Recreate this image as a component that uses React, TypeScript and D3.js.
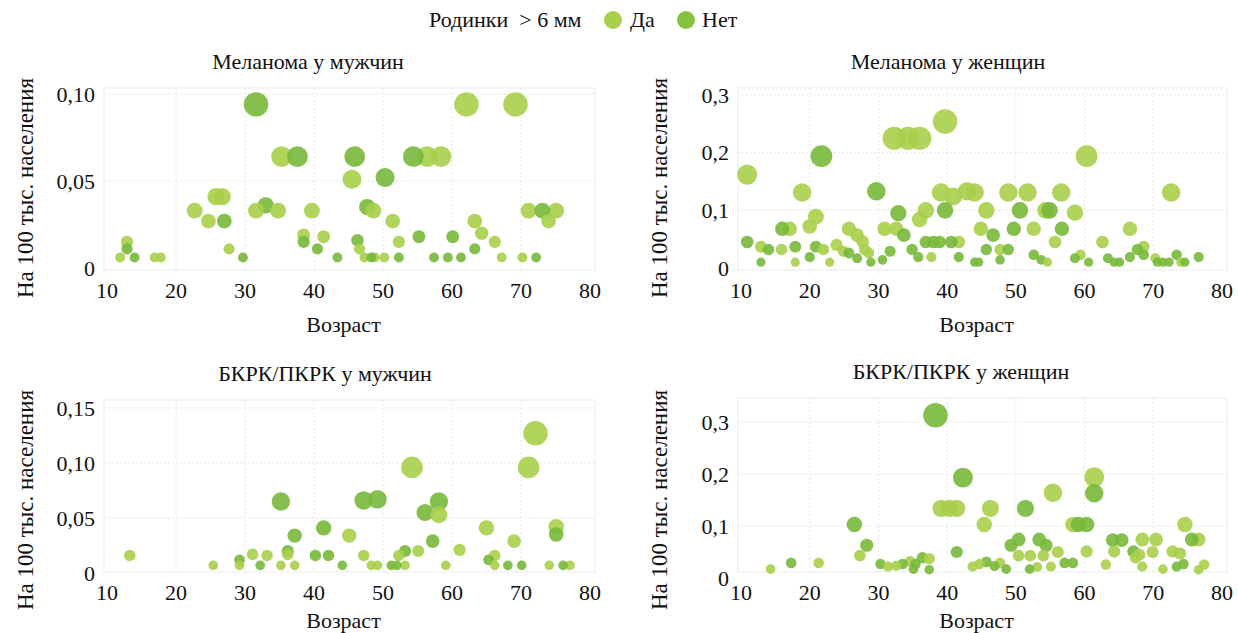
import React from "react";
import * as d3 from "d3";

// [возраст, значение на 100 тыс.] — «Да» = родинки > 6 мм, «Нет» = без них
const melMenYes = [
  [62.1, 0.094], [69.2, 0.094], [35.3, 0.064], [56.4, 0.064], [58.4, 0.064], [45.5, 0.051],
  [25.8, 0.041], [26.7, 0.041], [22.7, 0.033], [24.7, 0.027], [31.6, 0.033], [34.8, 0.033],
  [39.7, 0.033], [48.6, 0.033], [51.4, 0.027], [71.1, 0.033], [75.1, 0.033], [74.0, 0.027],
  [63.3, 0.027], [64.3, 0.02], [66.2, 0.015], [67.2, 0.006], [70.2, 0.006], [52.3, 0.015],
  [50.2, 0.006], [48.8, 0.006], [47.3, 0.006], [46.6, 0.011], [41.4, 0.018], [38.5, 0.019],
  [27.7, 0.011], [16.9, 0.006], [17.8, 0.006], [12.9, 0.015], [11.9, 0.006],
];
const melMenNo = [
  [31.6, 0.094], [37.6, 0.064], [45.9, 0.064], [54.4, 0.064], [50.3, 0.052], [27.0, 0.027],
  [33.0, 0.036], [47.7, 0.035], [73.1, 0.033], [63.3, 0.011], [72.2, 0.006], [60.1, 0.018],
  [59.4, 0.006], [61.3, 0.006], [57.4, 0.006], [55.2, 0.018], [52.3, 0.006], [48.3, 0.006],
  [46.3, 0.016], [43.4, 0.006], [40.5, 0.011], [38.5, 0.015], [29.7, 0.006], [12.9, 0.011],
  [14.0, 0.006],
];

const melWomenYes = [
  [10.9, 0.162], [18.9, 0.131], [32.3, 0.225], [34.3, 0.225], [36.0, 0.225], [39.7, 0.254],
  [60.3, 0.194], [72.6, 0.131], [39.1, 0.131], [40.9, 0.124], [42.9, 0.133], [44.0, 0.131],
  [48.9, 0.131], [51.7, 0.131], [56.6, 0.131], [54.3, 0.1], [45.7, 0.1], [36.9, 0.1],
  [58.6, 0.096], [36.0, 0.084], [20.9, 0.089], [20.0, 0.072], [17.1, 0.068], [25.7, 0.068],
  [30.9, 0.068], [32.6, 0.068], [26.9, 0.057], [27.7, 0.046], [28.0, 0.032], [44.9, 0.068],
  [52.6, 0.068], [66.6, 0.068], [55.7, 0.045], [62.6, 0.045], [12.9, 0.037], [15.9, 0.032],
  [22.0, 0.032], [23.9, 0.04], [24.9, 0.029], [28.6, 0.026], [41.7, 0.045], [37.7, 0.019],
  [47.7, 0.032], [54.6, 0.01], [59.4, 0.023], [68.6, 0.037], [70.3, 0.017], [74.0, 0.01],
  [17.9, 0.01], [22.9, 0.01],
];
const melWomenNo = [
  [21.7, 0.194], [29.7, 0.133], [54.9, 0.1], [50.6, 0.1], [39.7, 0.1], [32.9, 0.095],
  [16.0, 0.068], [33.7, 0.057], [46.7, 0.057], [49.7, 0.068], [56.7, 0.068], [10.9, 0.045],
  [14.0, 0.032], [17.9, 0.037], [20.9, 0.037], [25.7, 0.026], [26.9, 0.017], [31.7, 0.029],
  [34.9, 0.032], [35.8, 0.019], [36.9, 0.045], [38.0, 0.045], [38.9, 0.045], [40.6, 0.045],
  [41.7, 0.019], [45.7, 0.032], [48.9, 0.032], [47.7, 0.014], [52.6, 0.023], [53.7, 0.014],
  [58.6, 0.017], [60.6, 0.01], [63.4, 0.017], [64.3, 0.01], [65.1, 0.01], [66.6, 0.019],
  [67.7, 0.032], [68.6, 0.023], [70.6, 0.01], [71.4, 0.01], [72.3, 0.01], [73.4, 0.023],
  [74.6, 0.01], [76.6, 0.019], [12.9, 0.01], [20.0, 0.019], [28.9, 0.01], [30.6, 0.014],
  [44.0, 0.01], [44.6, 0.01],
];

const bcMenYes = [
  [72.1, 0.127], [71.1, 0.096], [54.2, 0.096], [58.1, 0.053], [65.0, 0.041], [75.1, 0.042],
  [45.1, 0.034], [69.0, 0.029], [13.3, 0.016], [31.1, 0.017], [33.2, 0.016], [36.2, 0.017],
  [47.2, 0.016], [52.3, 0.016], [55.1, 0.02], [61.1, 0.021], [66.2, 0.016], [29.2, 0.007],
  [25.4, 0.007], [35.2, 0.007], [37.2, 0.007], [48.3, 0.007], [49.2, 0.007], [53.2, 0.007],
  [59.1, 0.007], [66.2, 0.007], [74.1, 0.007], [77.1, 0.007],
];
const bcMenNo = [
  [35.2, 0.065], [47.2, 0.066], [49.2, 0.067], [58.1, 0.065], [56.1, 0.055], [41.4, 0.041],
  [75.1, 0.035], [37.2, 0.034], [57.2, 0.029], [36.2, 0.02], [40.2, 0.016], [42.1, 0.016],
  [53.2, 0.02], [65.3, 0.012], [29.2, 0.012], [32.2, 0.007], [44.1, 0.007], [51.2, 0.007],
  [52.0, 0.007], [68.1, 0.007], [70.1, 0.007], [76.1, 0.007],
];

const bcWomenYes = [
  [61.4, 0.194], [55.4, 0.164], [39.1, 0.134], [40.3, 0.134], [41.4, 0.134], [46.3, 0.134],
  [45.4, 0.103], [58.3, 0.103], [74.6, 0.103], [27.3, 0.043], [68.4, 0.074], [70.4, 0.074],
  [76.6, 0.074], [68.0, 0.045], [67.4, 0.039], [69.9, 0.05], [72.8, 0.051], [73.9, 0.047],
  [64.3, 0.051], [60.3, 0.051], [56.1, 0.05], [54.0, 0.043], [52.1, 0.043], [50.4, 0.043],
  [21.3, 0.029], [14.3, 0.017], [31.4, 0.022], [32.6, 0.024], [34.6, 0.032], [37.4, 0.037],
  [43.7, 0.022], [44.7, 0.027], [47.7, 0.029], [53.1, 0.021], [55.1, 0.022], [63.1, 0.026],
  [68.4, 0.022], [71.4, 0.017], [76.6, 0.016], [77.4, 0.026],
];
const bcWomenNo = [
  [38.3, 0.313], [42.3, 0.193], [61.4, 0.163], [51.4, 0.134], [26.5, 0.103], [59.1, 0.103],
  [60.3, 0.103], [28.3, 0.063], [49.3, 0.063], [50.4, 0.074], [53.4, 0.074], [54.4, 0.063],
  [64.1, 0.073], [65.4, 0.073], [75.6, 0.074], [67.1, 0.051], [41.4, 0.05], [17.3, 0.029],
  [30.3, 0.027], [33.5, 0.027], [35.4, 0.027], [36.4, 0.039], [35.1, 0.017], [37.4, 0.016],
  [45.7, 0.031], [46.9, 0.023], [48.6, 0.017], [52.0, 0.017], [57.1, 0.029], [58.3, 0.029],
  [73.4, 0.022], [74.4, 0.027],
];

const ageTicks = [10, 20, 30, 40, 50, 60, 70, 80];
const ticksMelMen = [0, 0.05, 0.1];
const tickLabelsMelMen = ["0", "0,05", "0,10"];
const ticksSmall = [0, 0.05, 0.1, 0.15];
const tickLabelsSmall = ["0", "0,05", "0,10", "0,15"];
const ticksWomen = [0, 0.1, 0.2, 0.3];
const tickLabelsWomen = ["0", "0,1", "0,2", "0,3"];

const YES = "#a9cf4b";
const NO = "#78b83a";
const FONT = "'Liberation Serif', 'DejaVu Serif', serif";

function Panel({ title, titleX, yes, no, ticks, tickLabels, yMax, x0, x1, y0, y1, top, bottom, xlabY, ylabY }) {
  const x = d3.scaleLinear().domain([10, 80]).range([x0, x1]);
  const y = d3.scaleLinear().domain([0, yMax]).range([y0, y1]);
  const vmax = d3.max([...yes, ...no], (d) => d[1]);
  const r = (v) => Math.sqrt(16 + (150 - 16) * (v / vmax));
  const pts = [
    ...yes.map((d) => ({ a: d[0], v: d[1], c: YES })),
    ...no.map((d) => ({ a: d[0], v: d[1], c: NO })),
  ].sort((a, b) => b.v - a.v);
  const left = x0 - 3;
  const right = x1 + 5;
  const cx = (x0 + x1) / 2;
  return (
    <g fontFamily={FONT} fill="#111">
      <rect x={left} y={top} width={right - left} height={bottom - top} fill="none" stroke="#ececec" />
      {ageTicks.slice(1, -1).map((t) => (
        <line key={"v" + t} x1={x(t)} x2={x(t)} y1={top} y2={bottom} stroke="#e6e8e0" strokeDasharray="2,2" />
      ))}
      {ticks.slice(1).map((t) => (
        <line key={"h" + t} x1={left} x2={right} y1={y(t)} y2={y(t)} stroke="#e6eadb" strokeDasharray="2,2" />
      ))}
      {pts.map((p, i) => (
        <circle key={i} cx={x(p.a)} cy={y(p.v)} r={r(p.v)} fill={p.c} fillOpacity={0.9} />
      ))}
      {ageTicks.map((t) => (
        <text key={"xt" + t} x={x(t)} y={bottom + 28} textAnchor="middle" fontSize={22}>
          {t}
        </text>
      ))}
      {ticks.map((t, i) => (
        <text key={"yt" + t} x={x0 - 12} y={y(t)} dy="0.35em" textAnchor="end" fontSize={22}>
          {tickLabels[i]}
        </text>
      ))}
      <text x={titleX} y={top - 19} textAnchor="middle" fontSize={22}>
        {title}
      </text>
      <text x={cx - 5} y={xlabY} textAnchor="middle" fontSize={22}>
        Возраст
      </text>
      <text transform={`translate(${x0 - 74},${ylabY}) rotate(-90)`} textAnchor="middle" fontSize={23}>
        На 100 тыс. населения
      </text>
    </g>
  );
}

export default function App() {
  return (
    <svg width={1238} height={633} style={{ position: "absolute", left: 0, top: 0, background: "#fff" }}>
      <g fontFamily={FONT} fontSize={22} fill="#111">
        <text x={429} y={27} style={{ whiteSpace: "pre" }}>
          {"Родинки  > 6 мм"}
        </text>
        <circle cx={613} cy={20} r={9} fill={YES} />
        <text x={630} y={27}>Да</text>
        <circle cx={686} cy={20} r={9} fill="#86c23f" />
        <text x={702} y={27}>Нет</text>
      </g>
      <Panel title="Меланома у мужчин" titleX={308} yes={melMenYes} no={melMenNo} ticks={ticksMelMen}
        tickLabels={tickLabelsMelMen} yMax={0.1} x0={107} x1={590} y0={268} y1={94} top={88} bottom={270}
        xlabY={332} ylabY={188} />
      <Panel title="Меланома у женщин" titleX={948} yes={melWomenYes} no={melWomenNo} ticks={ticksWomen}
        tickLabels={tickLabelsWomen} yMax={0.3} x0={741} x1={1222} y0={268} y1={95} top={88} bottom={270}
        xlabY={332} ylabY={188} />
      <Panel title="БКРК/ПКРК у мужчин" titleX={325} yes={bcMenYes} no={bcMenNo} ticks={ticksSmall}
        tickLabels={tickLabelsSmall} yMax={0.15} x0={107} x1={590} y0={573} y1={408} top={400} bottom={572}
        xlabY={628} ylabY={500} />
      <Panel title="БКРК/ПКРК у женщин" titleX={961} yes={bcWomenYes} no={bcWomenNo} ticks={ticksWomen}
        tickLabels={tickLabelsWomen} yMax={0.3} x0={741} x1={1222} y0={578} y1={422} top={398} bottom={572}
        xlabY={628} ylabY={500} />
    </svg>
  );
}
